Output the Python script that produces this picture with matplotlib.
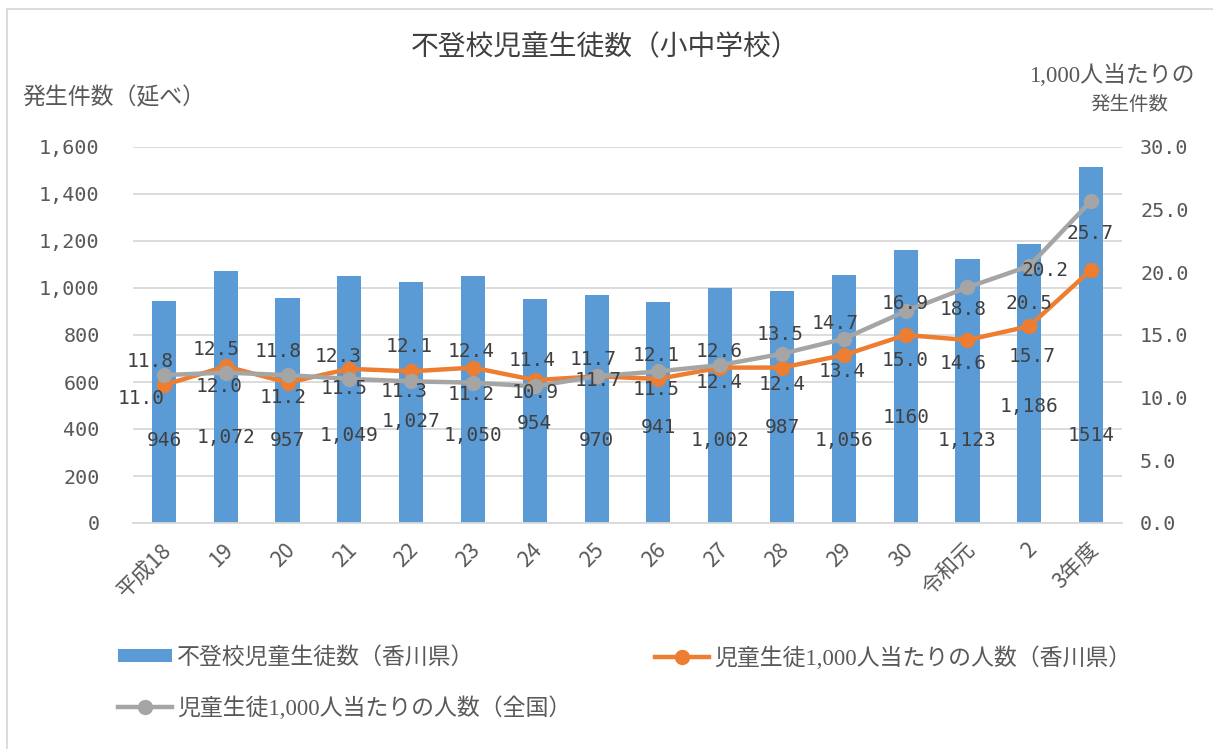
import matplotlib.pyplot as plt
from matplotlib.lines import Line2D
from matplotlib.patches import Patch
from matplotlib.font_manager import FontProperties
import matplotlib.transforms as mtransforms

# donnees
years = ["平成18", "19", "20", "21", "22", "23", "24", "25", "26", "27",
         "28", "29", "30", "令和元", "2", "3年度"]
cases_kagawa = [946, 1072, 957, 1049, 1027, 1050, 954, 970, 941, 1002,
                987, 1056, 1160, 1123, 1186, 1514]
case_labels = ["946", "1,072", "957", "1,049", "1,027", "1,050", "954", "970",
               "941", "1,002", "987", "1,056", "1160", "1,123", "1,186", "1514"]
rate_kagawa = [11.0, 12.5, 11.2, 12.3, 12.1, 12.4, 11.4, 11.7, 11.5, 12.4,
               12.4, 13.4, 15.0, 14.6, 15.7, 20.2]
rate_national = [11.8, 12.0, 11.8, 11.5, 11.3, 11.2, 10.9, 11.7, 12.1, 12.6,
                 13.5, 14.7, 16.9, 18.8, 20.5, 25.7]

# positions des etiquettes (pixels, dx, dy)
off_national = [(-14, 14), (-7, -14), (-9, 24), (-5, -10), (-7, -10), (-2, -12),
                (0, -6), (-3, 17), (-2, 16), (-1, 14), (-2, 19), (-9, 15),
                (-1, 8), (-4, -22), (0, -37), (-1, -33)]
off_kagawa = [(-23, -13), (-10, 17), (-4, -15), (-11, 12), (-2, 25), (-2, 16),
              (-3, 20), (2, -4), (-2, -11), (-1, -15), (0, -17), (-2, -16),
              (-1, -26), (-4, -23), (3, -30), (-46, -1)]
bar_label_y = [353, 362, 353, 374, 430, 374, 425, 353, 408, 353, 408, 353,
               451, 353, 494, 374]

BLUE = "#5B9BD5"
ORANGE = "#ED7D31"
GRAY = "#A5A5A5"
TXT = "#595959"
LBL = "#404040"
JP = "Noto Sans CJK JP"
MONO = "DejaVu Sans Mono"
MIX = ["Liberation Serif", JP]

W, H = 1213, 749
fig = plt.figure(figsize=(W / 100, H / 100), dpi=100)
ax = fig.add_axes([133 / W, (H - 523) / H, (1122 - 133) / W, (523 - 147) / H])
ax2 = ax.twinx()

x = list(range(len(years)))
ax.bar(x, cases_kagawa, width=0.39, color=BLUE, zorder=2)
ax.set_xlim(-0.5, len(years) - 0.5)
ax.set_ylim(0, 1600)
ax.set_yticks(range(0, 1601, 200))
ax.set_yticklabels([f"{v:,}" for v in range(0, 1601, 200)], fontfamily=MONO,
                   fontsize=14.5, color=TXT)
ax.grid(axis="y", color="#d9d9d9", lw=1.3, zorder=0)
ax.set_axisbelow(True)
for s in ["top", "right", "left"]:
    ax.spines[s].set_visible(False)
ax.spines["bottom"].set_color("#d9d9d9")
ax.spines["bottom"].set_linewidth(1.3)
ax.tick_params(axis="y", length=0, pad=24)
ax.tick_params(axis="x", length=0, pad=17)
ax.set_xticks(x)
ax.set_xticklabels(years, rotation=45, ha="right", va="center",
                   rotation_mode="anchor", fontfamily=JP, fontsize=15.5, color=TXT)
shift = mtransforms.ScaledTranslation(4 / 100, 0, fig.dpi_scale_trans)
for lab in ax.get_xticklabels():
    lab.set_transform(lab.get_transform() + shift)

for i, t in enumerate(case_labels):
    ax.text(i, bar_label_y[i], t, ha="center", va="center", fontfamily=MONO,
            fontsize=14, color=LBL, zorder=5)

ax2.plot(x, rate_kagawa, color=ORANGE, lw=3.2, marker="o", ms=10, zorder=3)
ax2.plot(x, rate_national, color=GRAY, lw=3.2, marker="o", ms=10, zorder=4)
ax2.set_ylim(0, 30)
ax2.set_yticks(range(0, 31, 5))
ax2.set_yticklabels([f"{v:.1f}" for v in range(0, 31, 5)], fontfamily=MONO,
                    fontsize=14.5, color=TXT)
ax2.tick_params(axis="y", length=0, pad=13)
for s in ax2.spines.values():
    s.set_visible(False)

for i in x:
    dx, dy = off_national[i]
    ax2.annotate(f"{rate_national[i]:.1f}", (i, rate_national[i]),
                 xytext=(dx * 0.72, dy * 0.72), textcoords="offset points",
                 ha="center", va="center", fontfamily=MONO, fontsize=14,
                 color=LBL, zorder=6)
    dx, dy = off_kagawa[i]
    ax2.annotate(f"{rate_kagawa[i]:.1f}", (i, rate_kagawa[i]),
                 xytext=(dx * 0.72, dy * 0.72), textcoords="offset points",
                 ha="center", va="center", fontfamily=MONO, fontsize=14,
                 color=LBL, zorder=6)

# titres
fig.text(605 / W, 1 - 47 / H, "不登校児童生徒数（小中学校）", ha="center", va="center",
         fontfamily=JP, fontsize=20, color="#404040")
fig.text(22 / W, 1 - 98 / H, "発生件数（延べ）", ha="left", va="center",
         fontfamily=JP, fontsize=16.5, color=TXT)
fig.text(1112 / W, 1 - 75 / H, "1,000人当たりの", ha="center", va="center",
         family=MIX, fontsize=16.5, color=TXT)
fig.text(1129 / W, 1 - 105 / H, "発生件数", ha="center", va="center",
         fontfamily=JP, fontsize=14, color=TXT)

# legende
prop = FontProperties(family=MIX, size=16.5)
h_bar = Patch(facecolor=BLUE, edgecolor="none")
h_or = Line2D([], [], color=ORANGE, lw=3.2, marker="o", ms=10)
h_gr = Line2D([], [], color=GRAY, lw=3.2, marker="o", ms=10)
entries = [(h_bar, "不登校児童生徒数（香川県）", 118, 658),
           (h_or, "児童生徒1,000人当たりの人数（香川県）", 655, 658),
           (h_gr, "児童生徒1,000人当たりの人数（全国）", 118, 708)]
for h, lab, lx, ly in entries:
    leg = fig.legend([h], [lab], loc="center left",
                     bbox_to_anchor=(lx / W, 1 - ly / H), frameon=False,
                     prop=prop, handlelength=2.36, handleheight=0.5,
                     handletextpad=0.22, borderpad=0, borderaxespad=0)
    for t in leg.get_texts():
        t.set_color(TXT)

# cadre
fig.add_artist(Line2D([7 / W, 1], [1 - 9 / H, 1 - 9 / H], color="#d9d9d9",
                      lw=1.3, transform=fig.transFigure))
fig.add_artist(Line2D([7 / W, 7 / W], [0, 1 - 9 / H], color="#d9d9d9",
                      lw=1.3, transform=fig.transFigure))

fig.savefig("out.png", dpi=100)
